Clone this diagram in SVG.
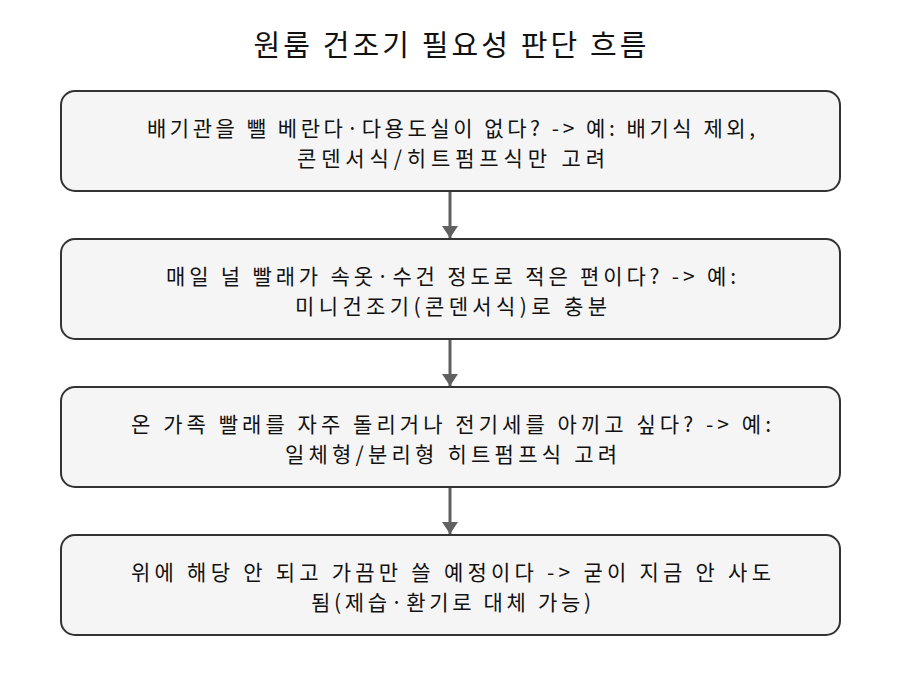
<svg xmlns="http://www.w3.org/2000/svg" width="900" height="676" viewBox="0 0 900 676">
<defs>
<style>
.bg{fill:#ffffff}
.node rect{fill:#f5f5f5;stroke:#333333;stroke-width:2}
.t{font-family:"Noto Sans CJK KR","Noto Sans",sans-serif;font-size:21px;fill:#111111;text-anchor:middle}
.title{font-family:"Noto Sans CJK KR","Noto Sans",sans-serif;font-size:29px;fill:#111111;text-anchor:middle}
.edge{stroke:#606060;stroke-width:3;fill:none}
</style>
<marker id="arr" viewBox="0 0 12 16" refX="12" refY="8" markerWidth="12" markerHeight="16" markerUnits="userSpaceOnUse" orient="auto">
<path d="M0,0 L12,8 L0,16 Z" fill="#606060"/>
</marker>
</defs>
<rect class="bg" x="0" y="0" width="900" height="676"/>
<text class="title" x="450" y="56" textLength="393">원룸 건조기 필요성 판단 흐름</text>
<g id="connectors">
<line class="edge" x1="450" y1="192" x2="450" y2="238" marker-end="url(#arr)"/>
<line class="edge" x1="450" y1="340" x2="450" y2="386" marker-end="url(#arr)"/>
<line class="edge" x1="450" y1="488" x2="450" y2="534" marker-end="url(#arr)"/>
</g>
<g id="n1" class="node">
<rect x="61" y="91" width="779" height="100" rx="14"/>
<text class="t" x="451" y="135.5" textLength="608">배기관을 뺄 베란다·다용도실이 없다? -&gt; 예: 배기식 제외,</text>
<text class="t" x="451" y="166" textLength="308">콘덴서식/히트펌프식만 고려</text>
</g>
<g id="n2" class="node">
<rect x="61" y="239" width="779" height="100" rx="14"/>
<text class="t" x="451" y="283.5" textLength="570">매일 널 빨래가 속옷·수건 정도로 적은 편이다? -&gt; 예:</text>
<text class="t" x="451" y="314" textLength="312">미니건조기(콘덴서식)로 충분</text>
</g>
<g id="n3" class="node">
<rect x="61" y="387" width="779" height="100" rx="14"/>
<text class="t" x="451" y="431.5" textLength="640">온 가족 빨래를 자주 돌리거나 전기세를 아끼고 싶다? -&gt; 예:</text>
<text class="t" x="451" y="462" textLength="332">일체형/분리형 히트펌프식 고려</text>
</g>
<g id="n4" class="node">
<rect x="61" y="535" width="779" height="100" rx="14"/>
<text class="t" x="451" y="579.5" textLength="640">위에 해당 안 되고 가끔만 쓸 예정이다 -&gt; 굳이 지금 안 사도</text>
<text class="t" x="451" y="610" textLength="280">됨(제습·환기로 대체 가능)</text>
</g>
</svg>
